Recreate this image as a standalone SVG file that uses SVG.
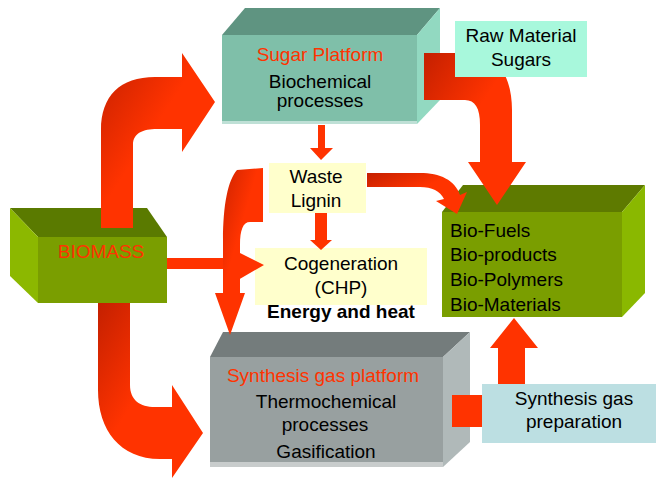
<svg xmlns="http://www.w3.org/2000/svg" width="656" height="480" viewBox="0 0 656 480">
<style>
text{font-family:"Liberation Sans",Arial,sans-serif;font-size:19px;fill:#000}
.c{text-anchor:middle}
.r{fill:#ff3300}
.b{font-weight:bold}
.arrow{fill:#ff3300}
.curve{fill:url(#gl)}
</style>
<defs>
<linearGradient id="gl" x1="0" y1="0" x2="1" y2="1">
<stop offset="0" stop-color="#c42000"/>
<stop offset="0.45" stop-color="#ff3300"/>
<stop offset="1" stop-color="#ff3300"/>
</linearGradient>
</defs>
<rect width="656" height="480" fill="#fff"/>

<g id="biomass">
<polygon points="10,208 147,208 167,237 38,237" fill="#5a7a00"/>
<polygon points="10,208 38,237 38,303 10,276" fill="#8cb800"/>
<rect x="38" y="237" width="129" height="66" fill="#7a9e00"/>
<text class="c r" x="101" y="258">BIOMASS</text>
</g>

<g id="sugar-platform">
<polygon points="222,35 245,8 440,8 417,35" fill="#5f9481"/>
<polygon points="417,35 440,8 440,100 417,124" fill="#92d9c1"/>
<rect x="222" y="35" width="195" height="89" fill="#7fbfa9"/>
<rect x="222" y="121" width="195" height="3" fill="#bfe0d6"/>
<text class="c r" x="320" y="61">Sugar Platform</text>
<text class="c" x="320" y="88">Biochemical</text>
<text class="c" x="320" y="107">processes</text>
</g>

<g id="products">
<polygon points="442,212 463,185 645,185 622,212" fill="#5e7a00"/>
<polygon points="622,212 645,185 645,293 622,317" fill="#8ab800"/>
<rect x="442" y="212" width="180" height="105" fill="#7a9e00"/>
<text x="450" y="237">Bio-Fuels</text>
<text x="450" y="261">Bio-products</text>
<text x="450" y="286">Bio-Polymers</text>
<text x="450" y="311">Bio-Materials</text>
</g>

<g id="synthesis-platform">
<polygon points="210,357 223,332 470,332 443,357" fill="#747c7c"/>
<polygon points="443,357 470,332 470,442 443,467" fill="#b0b9b9"/>
<rect x="210" y="357" width="233" height="110" fill="#98a0a0"/>
<rect x="210" y="462" width="233" height="5" fill="#c8cccc"/>
<text class="c r" x="323" y="382">Synthesis gas platform</text>
<text class="c" x="326" y="408">Thermochemical</text>
<text class="c" x="325" y="431">processes</text>
<text class="c" x="326" y="458">Gasification</text>
</g>

<g id="waste-lignin">
<rect x="269" y="163" width="97" height="50" fill="#ffffcc"/>
<text class="c" x="316" y="183">Waste</text>
<text class="c" x="316" y="207">Lignin</text>
</g>

<g id="cogeneration">
<rect x="255" y="248" width="172" height="57" fill="#ffffcc"/>
<text class="c" x="341" y="270">Cogeneration</text>
<text class="c" x="341" y="294">(CHP)</text>
<text class="c b" x="341" y="318">Energy and heat</text>
</g>

<g id="connectors">
<path class="curve" d="M101 228 L101 130 C101 96 120 77 155 77 L182 77 L182 53 L215 102 L182 152 L182 129 L157 129 C143 129 133 133 133 145 L133 228 Z"/>
<path class="curve" d="M98 303 L98 390 C98 430 120 459 160 459 L172 459 L172 478 L203 433 L172 385 L172 407 L155 407 C140 407 130 400 130 385 L130 303 Z"/>
<path class="arrow" d="M167 258 L238 258 L238 252 L264 265 L238 280 L238 269 L167 269 Z"/>
<path class="arrow" d="M318 125 L325 125 L325 148 L333 148 L321 160 L310 148 L318 148 Z"/>
<path class="arrow" d="M315 213 L327 213 L327 240 L332 240 L321 250 L310 240 L315 240 Z"/>
<path class="curve" d="M367 173 L420 173 C440 173 455 180 460 195 L467 192 L457 214 L436 201 L444 199 C440 191 432 187 420 187 L367 187 Z"/>
<path class="curve" d="M424 53 L470 53 C500 53 512 80 512 110 L512 162 L526 162 L497 205 L468 162 L480 162 L480 125 C480 108 475 100 465 100 L424 100 Z"/>
<path class="curve" d="M237 170 L263 168 L263 222 L250 222 C243 222 240 230 240 245 L240 293 L245 293 L230 335 L215 293 L223 293 L223 240 C223 205 228 180 237 170 Z"/>
<rect class="arrow" x="452" y="395" width="31" height="32"/>
<path class="arrow" d="M498 384 L498 348 L490 348 L514 318 L538 348 L525 348 L525 384 Z"/>
</g>

<g id="raw-material-sugars">
<rect x="455" y="21" width="132" height="56" fill="#a8f8dc"/>
<text class="c" x="521" y="42">Raw Material</text>
<text class="c" x="521" y="66">Sugars</text>
</g>

<g id="synthesis-gas-preparation">
<rect x="482" y="384" width="174" height="59" fill="#bcdfe2"/>
<text class="c" x="574" y="405">Synthesis gas</text>
<text class="c" x="574" y="428">preparation</text>
</g>
</svg>
